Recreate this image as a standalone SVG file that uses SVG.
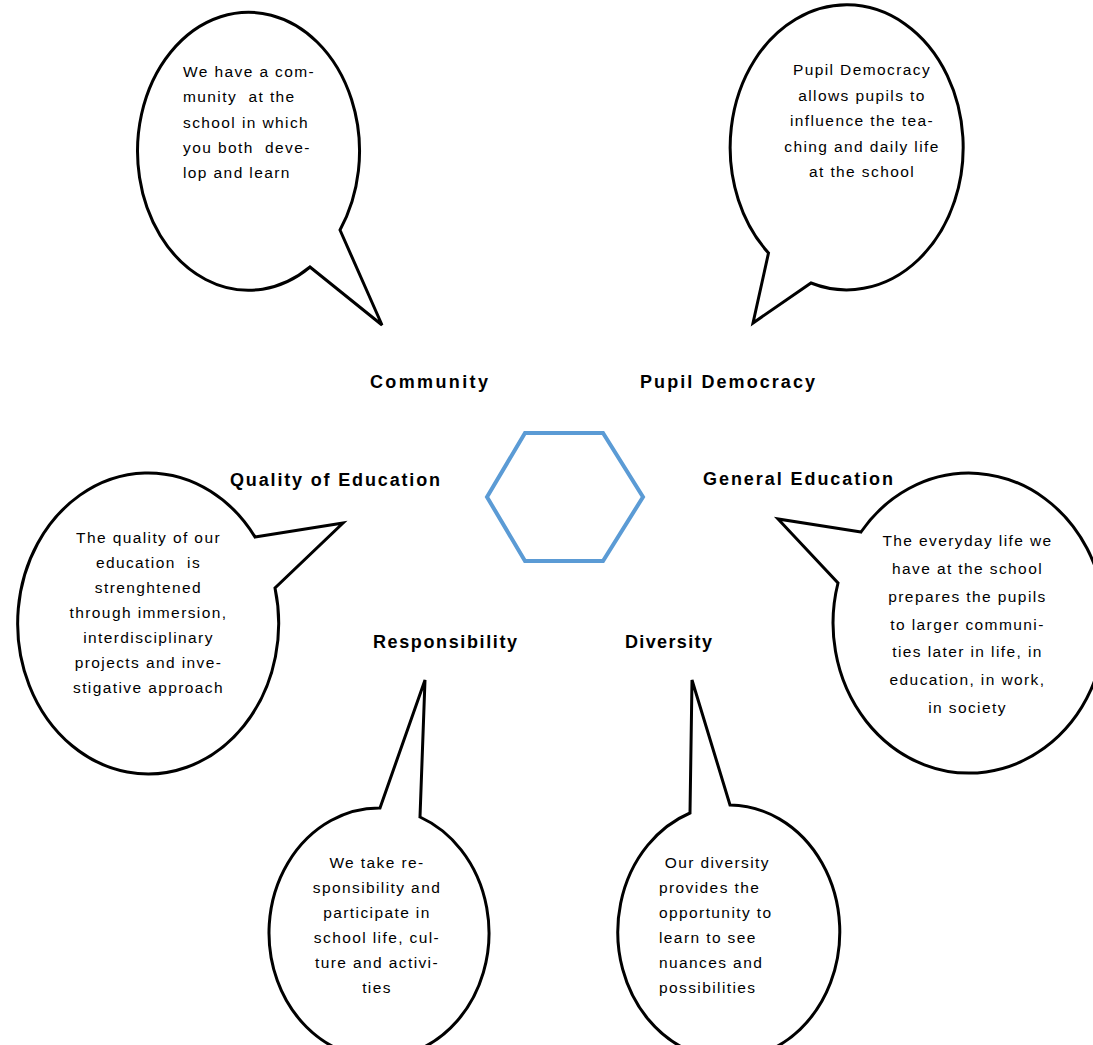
<svg xmlns="http://www.w3.org/2000/svg" width="1093" height="1045" viewBox="0 0 1093 1045">
<style>
.bubble{fill:#fff;stroke:#000;stroke-width:3;stroke-linejoin:miter}
.body{font-family:"Liberation Sans",Arial,sans-serif;font-size:15.5px;letter-spacing:1.4px;fill:#000;white-space:pre}
.mid{text-anchor:middle}
.lbl{font-family:"Liberation Sans",Arial,sans-serif;font-size:18px;font-weight:bold;fill:#000}
.hex{fill:none;stroke:#5B9BD5;stroke-width:4;stroke-linejoin:miter}
</style>
<rect width="1093" height="1045" fill="#fff"/>
<g id="center-hexagon">
<polygon class="hex" points="525,433 603,433 643,497 603,561 525,561 487,497"/>
</g>
<g id="community">
<path class="bubble" d="M 340 230 L 382 325 L 310 267 A 111 139 0 1 1 340 230 Z"/>
<text class="body"><tspan x="183" y="77">We have a com-</tspan><tspan x="183" y="102">munity  at the</tspan><tspan x="183" y="127.5">school in which</tspan><tspan x="183" y="152.5">you both  deve-</tspan><tspan x="183" y="178">lop and learn</tspan></text>
<text class="lbl" x="370" y="388" textLength="118" lengthAdjust="spacing">Community</text>
</g>
<g id="pupil-democracy">
<path class="bubble" d="M 768.5 253 L 753 323 L 811 283 A 116.5 142.5 0 1 0 768.5 253 Z"/>
<text class="body mid"><tspan x="862" y="75">Pupil Democracy</tspan><tspan x="862" y="100.5">allows pupils to</tspan><tspan x="862" y="126">influence the tea-</tspan><tspan x="862" y="151.5">ching and daily life</tspan><tspan x="862" y="177">at the school</tspan></text>
<text class="lbl" x="640" y="388" textLength="175" lengthAdjust="spacing">Pupil Democracy</text>
</g>
<g id="quality-of-education">
<path class="bubble" d="M 255 537 L 343 523 L 275 588 A 130.5 150.5 0 1 1 255 537 Z"/>
<text class="body mid"><tspan x="148.5" y="543">The quality of our</tspan><tspan x="148.5" y="568">education  is</tspan><tspan x="148.5" y="593">strenghtened</tspan><tspan x="148.5" y="618">through immersion,</tspan><tspan x="148.5" y="643">interdisciplinary</tspan><tspan x="148.5" y="668">projects and inve-</tspan><tspan x="148.5" y="693">stigative approach</tspan></text>
<text class="lbl" x="230" y="486" textLength="210" lengthAdjust="spacing">Quality of Education</text>
</g>
<g id="general-education">
<path class="bubble" d="M 861 532 L 778 519 L 838 583 A 136 150 0 1 0 861 532 Z"/>
<text class="body mid"><tspan x="967.5" y="546">The everyday life we</tspan><tspan x="967.5" y="574">have at the school</tspan><tspan x="967.5" y="602">prepares the pupils</tspan><tspan x="967.5" y="630">to larger communi-</tspan><tspan x="967.5" y="657">ties later in life, in</tspan><tspan x="967.5" y="685">education, in work,</tspan><tspan x="967.5" y="713">in society</tspan></text>
<text class="lbl" x="703" y="485" textLength="190" lengthAdjust="spacing">General Education</text>
</g>
<g id="responsibility">
<path class="bubble" d="M 380 808 L 425 680 L 420 817 A 110 125 0 1 1 380 808 Z"/>
<text class="body mid"><tspan x="377" y="868">We take re-</tspan><tspan x="377" y="893">sponsibility and</tspan><tspan x="377" y="918">participate in</tspan><tspan x="377" y="943">school life, cul-</tspan><tspan x="377" y="968">ture and activi-</tspan><tspan x="377" y="993">ties</tspan></text>
<text class="lbl" x="373" y="648" textLength="144" lengthAdjust="spacing">Responsibility</text>
</g>
<g id="diversity">
<path class="bubble" d="M 690 813 L 692 680 L 730 805 A 111 127 0 1 1 690 813 Z"/>
<text class="body"><tspan x="659" y="868"> Our diversity</tspan><tspan x="659" y="893">provides the</tspan><tspan x="659" y="918">opportunity to</tspan><tspan x="659" y="943">learn to see</tspan><tspan x="659" y="968">nuances and</tspan><tspan x="659" y="993">possibilities</tspan></text>
<text class="lbl" x="625" y="648" textLength="87" lengthAdjust="spacing">Diversity</text>
</g>
<g id="connectors"></g>
</svg>
